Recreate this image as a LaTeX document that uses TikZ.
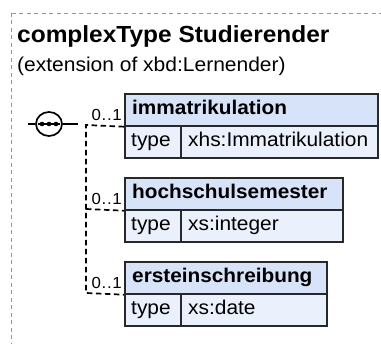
\documentclass[tikz,border=0pt]{standalone}
\usepackage{fontspec}
\setmainfont[FakeStretch=1.05]{Liberation Sans}
\usetikzlibrary{shapes.geometric,calc}
\definecolor{hdrfill}{RGB}{214,227,248}
\definecolor{rowfill}{RGB}{234,241,252}
\definecolor{boxline}{RGB}{40,40,40}
\definecolor{outerline}{RGB}{150,150,150}
\tikzset{
  hdrbox/.style={draw=boxline, line width=1.7pt, fill=hdrfill, rectangle, inner sep=0pt, anchor=north west, minimum height=32pt},
  rowbox/.style={draw=boxline, line width=1.7pt, fill=rowfill, rectangle, inner sep=0pt, anchor=north west, minimum height=32pt},
  hdrtext/.style={anchor=base west, inner sep=0pt, font=\fontsize{19.8}{22}\selectfont\bfseries},
  rowtext/.style={anchor=base west, inner sep=0pt, font=\fontsize{19.9}{22}\selectfont},
  cardtext/.style={anchor=base east, inner sep=0pt, font=\fontsize{16}{18}\selectfont},
  conn/.style={line width=1.7pt, dash pattern=on 5.5pt off 3.5pt},
  solidconn/.style={line width=1.7pt},
}
\newcommand{\card}{0\kern0.7pt.\kern0.7pt.\kern0.7pt1}
\begin{document}
\begin{tikzpicture}[x=1pt,y=-1pt]
\clip (0,0) rectangle (381,344);
\useasboundingbox (0,0) rectangle (381,344);
\draw[outerline, line width=0.8pt, dash pattern=on 4pt off 3.5pt] (11,13) rectangle (420,420);
\node[anchor=base west, inner sep=0pt, font=\fontsize{23.3}{26}\selectfont\bfseries] (title) at (17,43) {complexType Studierender};
\node[anchor=base west, inner sep=0pt, font=\fontsize{20}{22}\selectfont] (sub) at (17,72) {(extension of xbd:Lernender)};
% sequence symbol
\node[draw=black, line width=1.7pt, ellipse, inner sep=0pt, minimum width=26pt, minimum height=24pt] (seq) at (49,124) {};
\coordinate (lstub) at (28,124);
\coordinate (rstub) at (78,124);
\draw[solidconn] (lstub) -- (seq.west);
\draw[solidconn] (seq.east) -- (rstub);
\coordinate (d1) at (42,124);
\coordinate (d2) at (49,124);
\coordinate (d3) at (56,124);
\draw[line width=1.5pt] ($(seq.west)+(3,0)$) -- ($(seq.east)+(-3,0)$);
\fill (d1) circle (2.3pt) (d2) circle (2.3pt) (d3) circle (2.3pt);
% boxes
\node[hdrbox, minimum width=253pt] (h1) at (124,93) {};
\node[rowbox, minimum width=253pt] (r1) at (124,125) {};
\node[hdrbox, minimum width=218pt] (h2) at (124,177) {};
\node[rowbox, minimum width=218pt] (r2) at (124,209) {};
\node[hdrbox, minimum width=202pt] (h3) at (124,261) {};
\node[rowbox, minimum width=202pt] (r3) at (124,293) {};
\draw[boxline, line width=1.7pt] (181,125) -- (181,157) (181,209) -- (181,241) (181,293) -- (181,325);
\node[hdrtext] (t1) at (132,115) {immatrikulation};
\node[rowtext] (k1) at (131,147) {type};
\node[rowtext] (v1) at (188,147) {xhs:Immatrikulation};
\node[hdrtext] (t2) at (132,199) {hochschulsemester};
\node[rowtext] (k2) at (131,231) {type};
\node[rowtext] (v2) at (188,231) {xs:integer};
\node[hdrtext] (t3) at (132,283) {ersteinschreibung};
\node[rowtext] (k3) at (131,315) {type};
\node[rowtext] (v3) at (188,315) {xs:date};
% connectors
\coordinate (j1) at (86,125);
\coordinate (j2) at (86,209);
\coordinate (j3) at (86,293);
\draw[conn] (h1.south west) -- (j1) -- (j3) -- (h3.south west);
\draw[conn] (j2) -- (h2.south west);
\node[cardtext] (c1) at (122,121) {\card};
\node[cardtext] (c2) at (122,205) {\card};
\node[cardtext] (c3) at (122,289) {\card};
\end{tikzpicture}
\end{document}
